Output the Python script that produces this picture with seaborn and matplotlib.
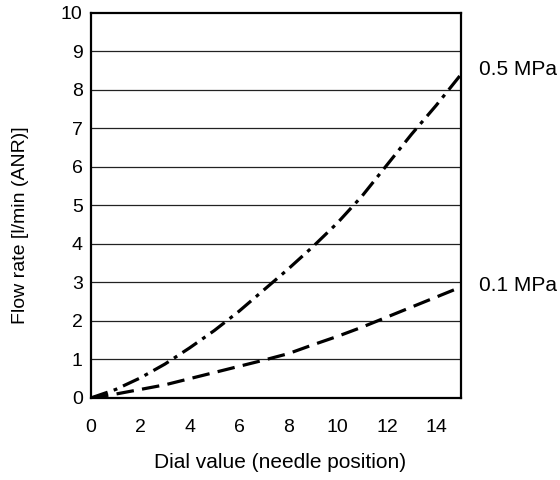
import matplotlib
matplotlib.use("Agg")
import matplotlib.pyplot as plt
import seaborn as sns
import pandas as pd

dial = [0, 1, 2, 3, 4, 5, 6, 7, 8, 9, 10, 11, 12, 13, 14, 15]
flow_05 = [0, 0.22, 0.52, 0.88, 1.3, 1.75, 2.25, 2.8, 3.35, 3.93, 4.55, 5.25, 6.05, 6.85, 7.6, 8.4]
flow_01 = [0, 0.1, 0.22, 0.34, 0.5, 0.66, 0.82, 0.98, 1.15, 1.38, 1.6, 1.84, 2.1, 2.36, 2.62, 2.88]
series_names = ["0.5 MPa", "0.1 MPa"]
x_ticks = [0, 2, 4, 6, 8, 10, 12, 14]
y_ticks = list(range(0, 11))

df = pd.concat([
    pd.DataFrame({"dial": dial, "flow": flow_05, "series": series_names[0]}),
    pd.DataFrame({"dial": dial, "flow": flow_01, "series": series_names[1]}),
])

sns.set_theme(style="white")
plt.rcParams["font.family"] = ["Liberation Sans", "DejaVu Sans"]

fig = plt.figure(figsize=(5.6, 4.8), dpi=100)
ax = fig.add_axes([0.1625, 0.171, 0.823 - 0.1625, 0.973 - 0.171])

for y in y_ticks[1:-1]:
    ax.axhline(y, color="#222222", lw=0.9, zorder=1)

sns.lineplot(data=df, x="dial", y="flow", style="series",
             dashes={series_names[0]: (5.5, 2, 1.2, 2), series_names[1]: (5.5, 2.6)},
             color="black", lw=2.3, legend=False, ax=ax, zorder=3, sort=False)

ax.set_xlim(0, 15)
ax.set_ylim(0, 10)
ax.set_xticks(x_ticks)
ax.set_yticks(y_ticks)
ax.tick_params(axis="both", direction="in", length=5, width=1.2, colors="black",
               labelsize=14)
ax.tick_params(axis="y", pad=6)
ax.tick_params(axis="x", pad=15.5)
for s in ax.spines.values():
    s.set_visible(True)
    s.set_color("black")
    s.set_linewidth(1.6)

ax.set_xlabel("")
ax.set_ylabel("")
fig.text(0.5, 12.5 / 480, "Dial value (needle position)", fontsize=15, ha="center",
         va="baseline", color="black")
fig.text(21 / 560, 0.531, "Flow rate [l/min (ANR)]", fontsize=14, ha="center", va="center",
         rotation=90, color="black")

ax.text(15.75, flow_05[-1] + 0.14, series_names[0], fontsize=15, va="center", ha="left",
        clip_on=False, color="black")
ax.text(15.75, flow_01[-1] + 0.04, series_names[1], fontsize=15, va="center", ha="left",
        clip_on=False, color="black")

fig.savefig("out.png", dpi=100)
